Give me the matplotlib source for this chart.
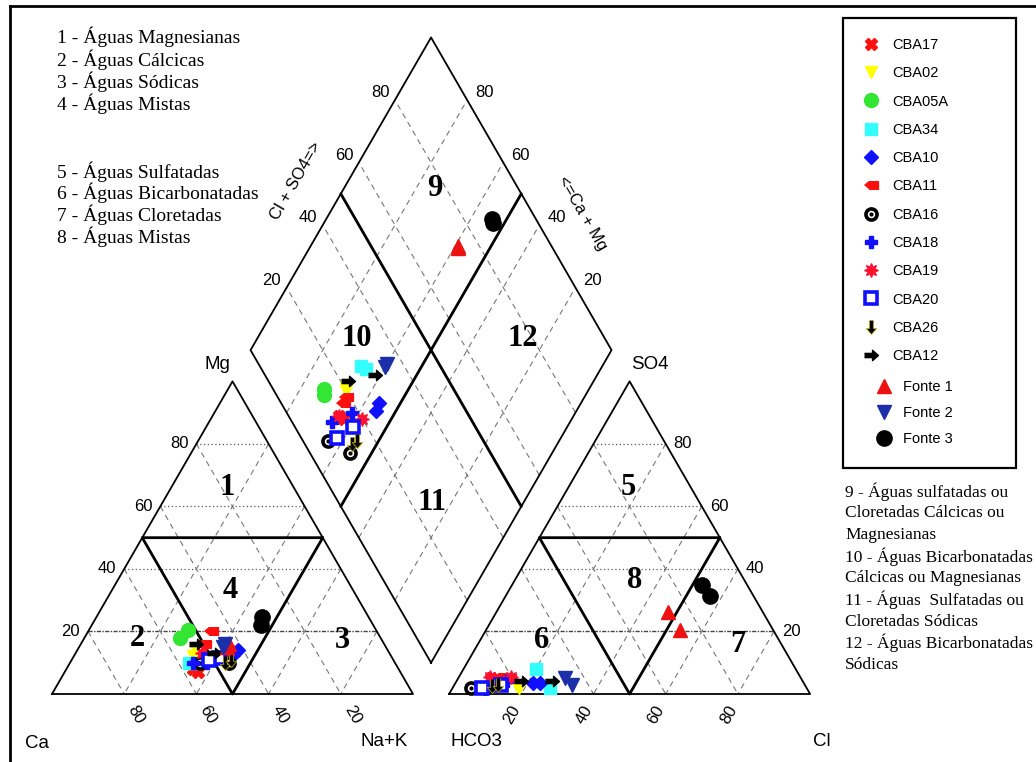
import numpy as np
import matplotlib
matplotlib.use('Agg')
import matplotlib.pyplot as plt
from matplotlib.lines import Line2D
from matplotlib.patches import Rectangle
from matplotlib.legend_handler import HandlerTuple

plt.rcParams['font.family'] = ['Liberation Sans', 'DejaVu Sans']

# ---------------- data (percent, two analyses per point set) ----------------
labels = ['CBA17', 'CBA02', 'CBA05A', 'CBA34', 'CBA10', 'CBA11', 'CBA16',
          'CBA18', 'CBA19', 'CBA20', 'CBA26', 'CBA12', 'Fonte 1', 'Fonte 2', 'Fonte 3']
ca = [[57, 56], [53, 55], [55.5, 52], [57, 55], [41.5, 43.5], [46, 50], [54, 46],
      [52, 56], [44, 52], [48, 51], [47, 45], [52, 48.5], [44, 43], [44, 45], [31, 29.5]]
mg = [[8, 7], [14.5, 12], [18, 20.5], [10, 10], [14, 12.5], [20, 16], [10, 10],
      [10, 10], [14, 13], [11.5, 11], [10, 11], [16, 13], [15, 16], [16, 15], [22, 24.5]]
nak = [[35, 37], [32.5, 33], [26.5, 27.5], [33, 35], [44.5, 44], [34, 34], [36, 44],
       [38, 34], [42, 35], [40.5, 38], [43, 44], [32, 38.5], [41, 41], [40, 40], [47, 46]]
hco3 = [[86, 85], [79.5, 80], [86, 87], [72, 71], [75, 73], [83, 81], [93, 89],
        [82, 89], [80, 86], [84, 90], [87, 85], [78, 69.5], [26.3, 25.8], [65.4, 64.5], [12.5, 12]]
so4 = [[5, 3.5], [2, 2.5], [3, 3], [8, 2], [3.5, 3.5], [5.5, 5], [2, 2],
       [4, 2], [5.5, 5.5], [3, 2], [2.5, 3], [4, 4], [26.2, 20.5], [5.1, 2.9], [35, 31.5]]
cl = [[9, 11.5], [18.5, 17.5], [11, 10], [20, 27], [21.5, 23.5], [11.5, 14], [5, 9],
      [14, 9], [14.5, 8.5], [13, 8], [10.5, 12], [18, 26.5], [47.5, 53.7], [29.5, 32.6], [52.5, 56.5]]
ticks = [20, 40, 60, 80]

# ---------------- geometry ----------------
H = np.sqrt(3) / 2
G = 0.1
S = 361.0            # pixels per unit
OX, OY = 52.0, 694.0  # pixel position of the Ca corner
W, HT = 1036, 762


def px(x, y):
    """pixel -> data coordinates (used for text placement only)"""
    return (x - OX) / S, (OY - y) / S


def cat_xy(a, m, n):
    a, m, n = map(np.asarray, (a, m, n))
    s = a + m + n
    return n / s + m / s / 2, m / s * H


def an_xy(h, s4, c):
    h, s4, c = map(np.asarray, (h, s4, c))
    s = h + s4 + c
    return 1 + G + c / s + s4 / s / 2, s4 / s * H


def dia_from(cm, cs):
    t = G + cs + cm
    return 1 - cm + t / 2, t * H


def dia_xy(a, m, n, h, s4, c):
    a, m, n, h, s4, c = map(np.asarray, (a, m, n, h, s4, c))
    cm = (a + m) / (a + m + n)
    cs = (c + s4) / (h + s4 + c)
    return dia_from(cm, cs)


fig = plt.figure(figsize=(W / 100, HT / 100), dpi=100)
ax = fig.add_axes([0, 0, 1, 1])
ax.set_xlim(-OX / S, (W - OX) / S)
ax.set_ylim((OY - HT) / S, OY / S)
ax.axis('off')

grid_kw = dict(color='#777777', lw=0.8, dashes=(5, 4), zorder=1)
hor_kw = dict(color='#555555', lw=0.9, ls=(0, (1, 2)), zorder=1)
hor20_kw = dict(color='#444444', lw=1.0, ls=(0, (3, 1, 1, 1)), zorder=1)
thick_kw = dict(color='black', lw=2.0, zorder=2, solid_capstyle='round')
edge_kw = dict(color='black', lw=1.3, zorder=2)


def line(p, q, **kw):
    ax.plot([p[0], q[0]], [p[1], q[1]], **kw)


for fn in (cat_xy, an_xy):
    for k in ticks:
        f = k / 100
        line(fn(1 - f, f, 0), fn(0, f, 1 - f), **(hor20_kw if k == 20 else hor_kw))
        line(fn(f, 1 - f, 0), fn(f, 0, 1 - f), **grid_kw)
        line(fn(0, 1 - f, f), fn(1 - f, 0, f), **grid_kw)
    A, B, C = fn(1, 0, 0), fn(0, 0, 1), fn(0, 1, 0)
    ax.plot([A[0], B[0], C[0], A[0]], [A[1], B[1], C[1], A[1]], **edge_kw)
    p1, p2, p3 = fn(.5, .5, 0), fn(.5, 0, .5), fn(0, .5, .5)
    ax.plot([p3[0], p1[0], p2[0], p3[0]], [p3[1], p1[1], p2[1], p3[1]], **thick_kw)

# diamond
for k in ticks:
    f = k / 100
    line(dia_from(f, 0), dia_from(f, 1), **grid_kw)
    line(dia_from(0, f), dia_from(1, f), **grid_kw)
corners = [dia_from(0, 0), dia_from(0, 1), dia_from(1, 1), dia_from(1, 0), dia_from(0, 0)]
ax.plot([c[0] for c in corners], [c[1] for c in corners], **edge_kw)
line(dia_from(.5, 0), dia_from(.5, 1), **thick_kw)
line(dia_from(0, .5), dia_from(1, .5), **thick_kw)

# ---------------- tick labels ----------------
tfs = 12
d = 0.022
for k in ticks:
    f = k / 100
    x, y = cat_xy(1 - f, f, 0)
    ax.text(x - d, y, str(k), ha='right', va='center', fontsize=tfs)
    x, y = an_xy(0, f, 1 - f)
    ax.text(x + d, y, str(k), ha='left', va='center', fontsize=tfs)
    x, y = cat_xy(f, 0, 1 - f)
    r = 0.065
    ax.text(x + r * 0.5, y - r * H, str(k), ha='center', va='center', fontsize=tfs, rotation=-60)
    x, y = an_xy(1 - f, 0, f)
    ax.text(x - r * 0.4, y - r * H, str(k), ha='center', va='center', fontsize=tfs, rotation=60)
    x, y = dia_from(1, f)
    ax.text(x - 0.015, y + 0.02, str(k), ha='right', va='center', fontsize=tfs)
    x, y = dia_from(f, 1)
    ax.text(x + 0.022, y + 0.02, str(k), ha='left', va='center', fontsize=tfs)

for t, (x, y) in [('Mg', (217, 364)), ('Ca', (37, 743)), ('Na+K', (384, 742)),
                  ('HCO3', (476, 742)), ('Cl', (822, 742)), ('SO4', (650, 364))]:
    ax.text(*px(x, y), t, ha='center', va='center', fontsize=13.5)
ax.text(*px(296, 181), 'Cl + SO4=>', ha='center', va='center', fontsize=12, rotation=60)
ax.text(*px(582, 213), '<=Ca + Mg', ha='center', va='center', fontsize=12, rotation=-60)

serif = ['Liberation Serif', 'DejaVu Serif']
for t, (x, y) in [('1', (227, 487)), ('2', (137, 638)), ('3', (342, 640)), ('4', (230, 590)),
                  ('5', (628, 487)), ('6', (542, 640)), ('7', (738, 645)), ('8', (635, 580)),
                  ('9', (435, 188)), ('10', (357, 338)), ('11', (432, 503)), ('12', (523, 338))]:
    ax.text(*px(x, y), t, ha='center', va='center', fontsize=22, fontweight='bold', family=serif)

left_lines = ['1 - Águas Magnesianas', '2 - Águas Cálcicas', '3 - Águas Sódicas', '4 - Águas Mistas',
              '5 - Águas Sulfatadas', '6 - Águas Bicarbonatadas', '7 - Águas Cloretadas', '8 - Águas Mistas']
left_y = [37, 60, 82, 104, 172, 193, 215, 237]
for t, y in zip(left_lines, left_y):
    ax.text(*px(57, y), t, ha='left', va='center', fontsize=14, family=serif)
right_lines = ['9 - Águas sulfatadas ou', 'Cloretadas Cálcicas ou', 'Magnesianas',
               '10 - Águas Bicarbonatadas', 'Cálcicas ou Magnesianas', '11 - Águas  Sulfatadas ou',
               'Cloretadas Sódicas', '12 - Águas Bicarbonatadas', 'Sódicas']
right_y = [492, 513, 535, 557, 578, 600, 622, 643, 665]
for t, y in zip(right_lines, right_y):
    ax.text(*px(845, y), t, ha='left', va='center', fontsize=12.5, family=serif)

# ---------------- markers ----------------
arrow_r = [(-1, 0.3), (0.15, 0.3), (0.15, 0.75), (1, 0), (0.15, -0.75), (0.15, -0.3), (-1, -0.3)]
arrow_d = [(y, -x) for x, y in arrow_r]
home_l = [(-1, 0), (-0.35, 0.55), (1, 0.55), (1, -0.55), (-0.35, -0.55)]

styles = [
    dict(marker='X', color='#ff1010', ms=9, mec='#ff1010'),
    dict(marker='v', color='#ffff00', ms=9, mec='#ffff00'),
    dict(marker='o', color='#33e633', ms=10, mec='#33e633'),
    dict(marker='s', color='#33ffff', ms=9, mec='#33ffff'),
    dict(marker='D', color='#1010ff', ms=7.5, mec='#1010ff'),
    dict(marker=home_l, color='#ff1010', ms=10, mec='#ff1010'),
    dict(marker='o', color='black', mfc='white', mec='black', ms=8, mew=2.6),
    dict(marker='P', color='#1010ff', ms=9, mec='#1010ff'),
    dict(marker=(8, 1, 0), color='#ff1030', ms=10, mec='#ff1030'),
    dict(marker='s', color='#1010ff', mfc='white', mec='#1010ff', ms=8, mew=2.6),
    dict(marker=arrow_d, color='black', ms=10, mec='#c8b800', mew=0.5),
    dict(marker=arrow_r, color='black', ms=10, mec='black'),
    dict(marker='^', color='#ee1111', ms=10, mec='#ee1111'),
    dict(marker='v', color='#1c2fa8', ms=10, mec='#1c2fa8'),
    dict(marker='o', color='black', ms=11, mec='black'),
]

handles = []
for i, lab in enumerate(labels):
    st = dict(styles[i])
    pts = [cat_xy(ca[i], mg[i], nak[i]), an_xy(hco3[i], so4[i], cl[i]),
           dia_xy(ca[i], mg[i], nak[i], hco3[i], so4[i], cl[i])]
    for x, y in pts:
        ax.plot(x, y, ls='none', zorder=5 + i * 0.1, **st)
        if lab == 'CBA16':
            ax.plot(x, y, ls='none', marker='o', ms=2, color='black', zorder=5.65)
    h = Line2D([], [], ls='none', **st)
    if lab == 'CBA16':
        h = (h, Line2D([], [], ls='none', marker='o', ms=2, color='black'))
    handles.append(h)

# legend box and entries
lx0, ly0, lx1, ly1 = 843, 18, 1016, 468
ax.add_patch(Rectangle(px(lx0, ly1), (lx1 - lx0) / S, (ly1 - ly0) / S, fill=False,
                       ec='black', lw=1.6, zorder=10))
lprop = {'family': ['Liberation Sans Narrow', 'Liberation Sans'], 'size': 10.5}
hmap = {tuple: HandlerTuple(ndivide=1, pad=0)}
leg1 = ax.legend(handles[:12], labels[:12], loc='upper left',
                 bbox_to_anchor=(lx0 / W, 1 - (ly0 + 1) / HT),
                 frameon=False, labelspacing=0.98, handlelength=1.2,
                 handletextpad=0.9, borderpad=0.8, numpoints=1, handler_map=hmap, prop=lprop)
ax.add_artist(leg1)
ax.legend(handles[12:], labels[12:], loc='upper left',
          bbox_to_anchor=(856 / W, 1 - 361 / HT),
          frameon=False, labelspacing=0.82, handlelength=1.2,
          handletextpad=0.7, borderpad=0.8, numpoints=1, handler_map=hmap, prop=lprop)

# outer frame (left and top edges visible)
ax.plot(*zip(px(10, 6), px(10, 762)), color='black', lw=2, zorder=10)
ax.plot(*zip(px(10, 6), px(1036, 6)), color='black', lw=2, zorder=10)

fig.savefig('out.png', dpi=100)
